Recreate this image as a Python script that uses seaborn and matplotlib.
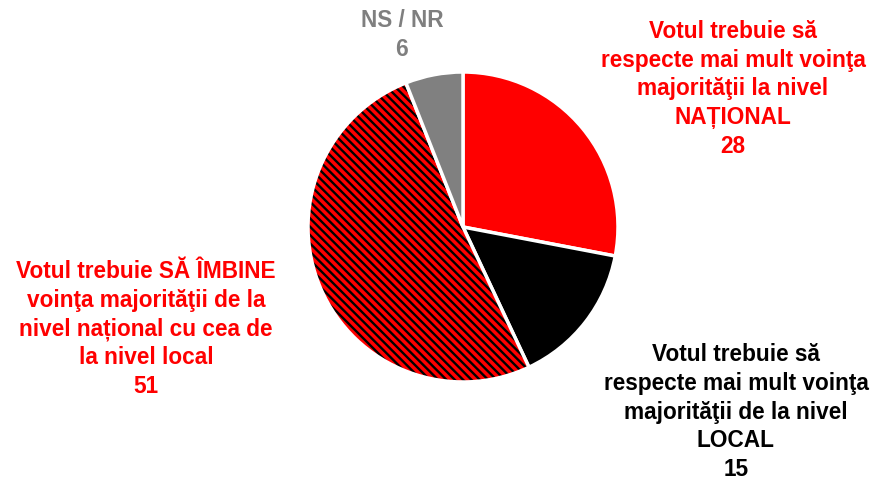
import matplotlib
matplotlib.use("Agg")
import matplotlib.pyplot as plt
import seaborn as sns

# Data
labels = [
    "Votul trebuie să\nrespecte mai mult voinţa\nmajorităţii la nivel\nNAȚIONAL",
    "Votul trebuie să\nrespecte mai mult voinţa\nmajorităţii de la nivel\nLOCAL",
    "Votul trebuie SĂ ÎMBINE\nvoinţa majorităţii de la\nnivel național cu cea de\nla nivel local",
    "NS / NR",
]
values = [28, 15, 51, 6]
colors = ["#FF0000", "#000000", "#FF0000", "#808080"]
text_colors = ["#FF0000", "#000000", "#FF0000", "#7F7F7F"]
hatches = [None, None, "\\\\\\\\", None]

sns.set_theme(style="white")
plt.rcParams["font.family"] = ["Liberation Sans", "DejaVu Sans"]
plt.rcParams["hatch.linewidth"] = 1.7
plt.rcParams["hatch.color"] = "black"

W, H = 877, 480
fig = plt.figure(figsize=(W / 100, H / 100), dpi=100)
ax = fig.add_axes([0, 0, 1, 1])

wedges, _ = ax.pie(values, colors=colors, startangle=90, counterclock=False,
                   radius=155, center=(463, H - 227),
                   wedgeprops=dict(edgecolor="white", linewidth=2.5),
                   frame=True)
ax.set_xlim(0, W)
ax.set_ylim(0, H)
ax.axis("off")
for w, h in zip(wedges, hatches):
    if h:
        w.set_hatch(h)
        w._hatch_color = (0, 0, 0, 1)

# label positions (pixel centres)
label_pos = [(733, 89), (736, 412), (146, 329), (402, 35)]
for lab, val, tc, (x, y) in zip(labels, values, text_colors, label_pos):
    ax.text(x, H - y, f"{lab}\n{val}", ha="center", va="center", color=tc,
            fontsize=16.3, fontweight="bold", linespacing=1.31)

fig.savefig("out.png", dpi=100, facecolor="white")
